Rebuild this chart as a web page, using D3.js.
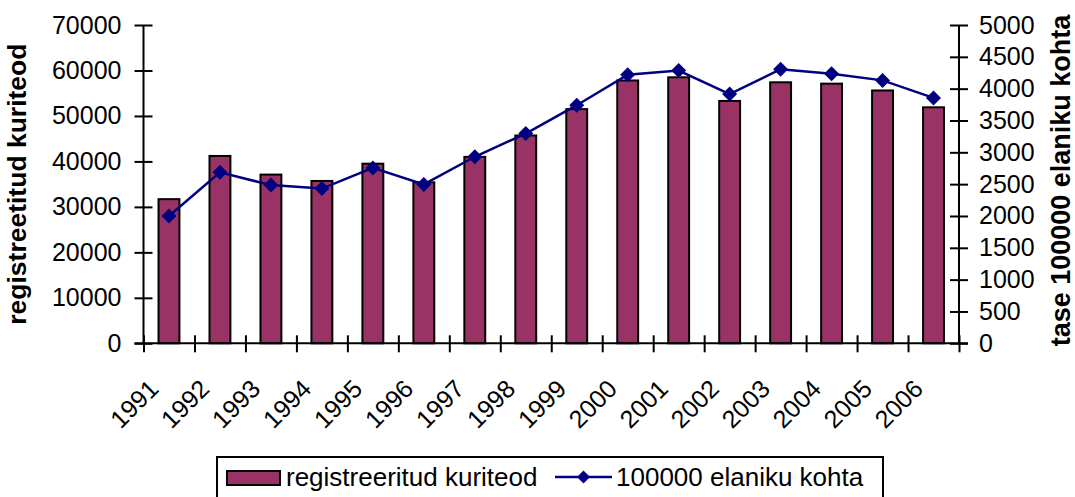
<!DOCTYPE html>
<html>
<head>
<meta charset="utf-8">
<script src="https://cdn.jsdelivr.net/npm/d3@7"></script>
<style>
  html, body { margin: 0; padding: 0; background: #fff; }
  svg { display: block; font-family: "Liberation Sans", Arial, sans-serif; }
</style>
</head>
<body>
<svg id="chart" width="1075" height="497"></svg>
<script>
var aastad = ['1991','1992','1993','1994','1995','1996','1997','1998','1999','2000','2001','2002','2003','2004','2005','2006'];
var kuriteod = [31700, 41200, 37100, 35700, 39500, 35400, 41000, 45700, 51500, 57800, 58500, 53300, 57400, 57100, 55600, 51900];
var elanikuKohta = [2000, 2685, 2485, 2430, 2755, 2495, 2930, 3295, 3740, 4220, 4285, 3915, 4305, 4235, 4130, 3855];
var vasakTicks = [0, 10000, 20000, 30000, 40000, 50000, 60000, 70000];
var paremTicks = [0, 500, 1000, 1500, 2000, 2500, 3000, 3500, 4000, 4500, 5000];

(function() {

	var plotLeft = 143.5,
		plotRight = 959,
		plotTop = 25,
		plotBottom = 343.3,
		tulpVarv = '#993366',
		jooneVarv = '#000080';

	var svg = d3.select('#chart');

	var x = d3.scaleBand()
		.domain(aastad)
		.range([plotLeft, plotRight])
		.paddingInner(0.59)
		.paddingOuter(0.295);

	var yVasak = d3.scaleLinear().domain([0, 70000]).range([plotBottom, plotTop]);
	var yParem = d3.scaleLinear().domain([0, 5000]).range([plotBottom, plotTop]);

	var keskel = function(d) { return x(d) + x.bandwidth() / 2; };

	// tulbad
	svg.append('g').selectAll('rect')
		.data(aastad)
		.enter().append('rect')
			.attr('x', function(d) { return x(d); })
			.attr('y', function(d, i) { return yVasak(kuriteod[i]); })
			.attr('width', x.bandwidth())
			.attr('height', function(d, i) { return plotBottom - yVasak(kuriteod[i]); })
			.attr('fill', tulpVarv)
			.attr('stroke', '#000')
			.attr('stroke-width', 2);

	// teljed
	var vasak = svg.append('g')
		.attr('transform', 'translate(' + plotLeft + ',0)')
		.call(d3.axisLeft(yVasak).tickValues(vasakTicks).tickSize(9).tickPadding(13).tickFormat(d3.format('d')));

	var parem = svg.append('g')
		.attr('transform', 'translate(' + plotRight + ',0)')
		.call(d3.axisRight(yParem).tickValues(paremTicks).tickSize(9).tickPadding(11).tickFormat(d3.format('d')));

	var piirid = aastad.map(function(d) { return x(d) - (x.step() - x.bandwidth()) / 2; });
	piirid.push(plotRight);
	var xTelg = d3.scaleLinear().domain([0, 1]).range([0, 1]);

	var alumine = svg.append('g')
		.attr('transform', 'translate(0,' + plotBottom + ')')
		.call(d3.axisBottom(xTelg).tickValues(piirid).tickSize(9).tickFormat(''));

	[vasak, parem, alumine].forEach(function(g) {
		g.select('.domain').remove();
		g.selectAll('.tick line').attr('stroke', '#000').attr('stroke-width', 2);
		g.selectAll('.tick text')
			.attr('fill', '#000')
			.attr('font-size', 25)
			.attr('font-family', '"Liberation Sans", Arial, sans-serif');
	});
	vasak.selectAll('.tick line').attr('x1', 9);
	parem.selectAll('.tick line').attr('x1', -9);
	alumine.selectAll('.tick line').attr('y1', -8);

	svg.append('line')
		.attr('x1', plotLeft).attr('x2', plotLeft)
		.attr('y1', plotTop).attr('y2', plotBottom)
		.attr('stroke', '#000').attr('stroke-width', 2);
	svg.append('line')
		.attr('x1', plotRight).attr('x2', plotRight)
		.attr('y1', plotTop).attr('y2', plotBottom)
		.attr('stroke', '#000').attr('stroke-width', 2);
	svg.append('line')
		.attr('x1', plotLeft - 9).attr('x2', plotRight + 9)
		.attr('y1', plotBottom).attr('y2', plotBottom)
		.attr('stroke', '#000').attr('stroke-width', 2);

	// aastate sildid, 45 kraadi all
	svg.append('g').selectAll('text')
		.data(aastad)
		.enter().append('text')
			.attr('transform', function(d) { return 'translate(' + (keskel(d) - 9) + ',' + (plotBottom + 47) + ') rotate(-45)'; })
			.attr('text-anchor', 'end')
			.attr('font-size', 25)
			.text(function(d) { return d; });

	// joon
	var joon = d3.line()
		.x(function(d, i) { return keskel(aastad[i]); })
		.y(function(d) { return yParem(d); });

	svg.append('path')
		.datum(elanikuKohta)
		.attr('d', joon)
		.attr('fill', 'none')
		.attr('stroke', jooneVarv)
		.attr('stroke-width', 2.5);

	var romb = function(r) { return 'M0,' + (-r) + 'L' + r + ',0L0,' + r + 'L' + (-r) + ',0Z'; };

	svg.append('g').selectAll('path')
		.data(elanikuKohta)
		.enter().append('path')
			.attr('transform', function(d, i) { return 'translate(' + keskel(aastad[i]) + ',' + yParem(d) + ')'; })
			.attr('d', romb(7.5))
			.attr('fill', jooneVarv);

	// telgede pealkirjad
	svg.append('text')
		.attr('transform', 'translate(26,' + ((plotTop + plotBottom) / 2) + ') rotate(-90)')
		.attr('text-anchor', 'middle')
		.attr('font-size', 26.5)
		.attr('font-weight', 'bold')
		.text('registreetitud kuriteod');

	svg.append('text')
		.attr('transform', 'translate(1070,' + 180.5 + ') rotate(-90)')
		.attr('text-anchor', 'middle')
		.attr('font-size', 27)
		.attr('font-weight', 'bold')
		.text('tase 100000 elaniku kohta');

	// legend
	var legend = svg.append('g');
	legend.append('rect')
		.attr('x', 217).attr('y', 457)
		.attr('width', 666).attr('height', 60)
		.attr('fill', '#fff').attr('stroke', '#000').attr('stroke-width', 2);
	legend.append('rect')
		.attr('x', 227).attr('y', 471)
		.attr('width', 53).attr('height', 14)
		.attr('fill', tulpVarv).attr('stroke', '#000').attr('stroke-width', 2);
	legend.append('text')
		.attr('x', 286).attr('y', 486)
		.attr('font-size', 26)
		.text('registreeritud kuriteod');
	legend.append('line')
		.attr('x1', 555).attr('x2', 612)
		.attr('y1', 477).attr('y2', 477)
		.attr('stroke', jooneVarv).attr('stroke-width', 2.5);
	legend.append('path')
		.attr('transform', 'translate(583.5,477)')
		.attr('d', romb(6.5))
		.attr('fill', jooneVarv);
	legend.append('text')
		.attr('x', 616).attr('y', 486)
		.attr('font-size', 26)
		.text('100000 elaniku kohta');

})();
</script>
</body>
</html>
